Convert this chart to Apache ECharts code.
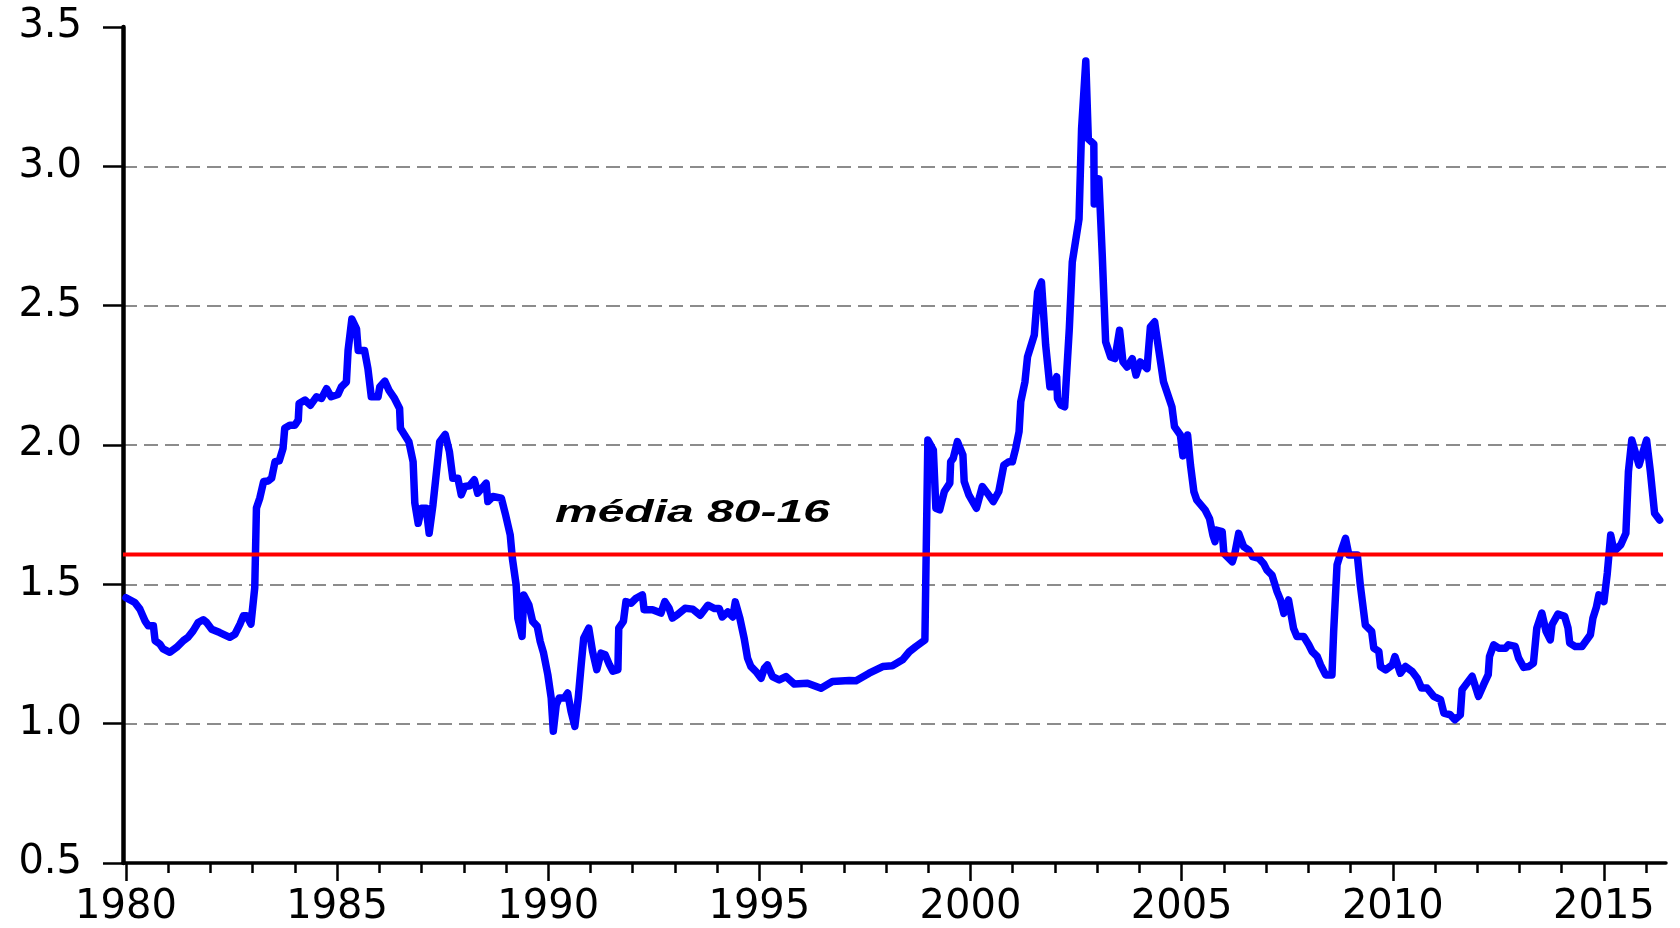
<!DOCTYPE html>
<html><head><meta charset="utf-8">
<script src="https://cdn.jsdelivr.net/npm/echarts@6/dist/echarts.min.js"></script>
<style>html,body{margin:0;padding:0;background:#fff}#chart{width:1680px;height:928px}</style>
</head><body><div id="chart"></div>
<script>
// ---- data ----
const dates = [
1980.00,1980.21,1980.33,1980.45,1980.53,1980.65,1980.69,1980.80,1980.88,1981.04,1981.20,1981.36,1981.47,1981.59,1981.71,1981.83,1981.91,
1982.03,1982.22,1982.46,1982.58,1982.70,1982.78,1982.86,1982.96,1983.05,1983.09,1983.17,1983.26,1983.37,1983.45,1983.53,1983.63,1983.72,1983.76,1983.88,
1984.00,1984.08,1984.10,1984.24,1984.37,1984.51,1984.63,1984.75,1984.86,1985.02,1985.10,1985.22,1985.26,1985.35,1985.46,1985.50,1985.65,1985.73,1985.81,1985.97,
1986.01,1986.13,1986.23,1986.36,1986.48,1986.50,1986.60,1986.70,1986.80,1986.84,1986.92,1987.00,1987.11,1987.18,1987.27,1987.43,1987.56,1987.66,1987.74,1987.86,1987.94,
1988.02,1988.14,1988.25,1988.33,1988.43,1988.53,1988.57,1988.69,1988.89,1988.99,1989.10,1989.15,1989.24,1989.28,1989.38,1989.42,1989.54,1989.63,1989.74,1989.81,1989.89,1989.99,
1990.07,1990.12,1990.19,1990.26,1990.38,1990.46,1990.54,1990.63,1990.71,1990.78,1990.84,1990.96,1991.05,1991.15,1991.25,1991.35,1991.45,1991.53,1991.65,1991.67,1991.78,1991.84,1991.96,
1992.08,1992.23,1992.27,1992.47,1992.67,1992.76,1992.86,1992.94,1993.06,1993.24,1993.42,1993.60,1993.78,1993.94,1994.05,1994.12,1994.25,1994.37,1994.43,1994.54,1994.64,1994.72,1994.80,1994.92,
1995.04,1995.12,1995.19,1995.31,1995.47,1995.63,1995.83,1996.14,1996.46,1996.73,1997.13,1997.29,1997.60,1997.92,1998.15,1998.39,1998.55,1998.70,1998.92,1998.99,
1999.12,1999.18,1999.27,1999.38,1999.51,1999.53,1999.59,1999.69,1999.82,1999.85,1999.96,2000.14,2000.28,2000.40,2000.54,2000.67,2000.79,2000.91,2000.99,
2001.07,2001.15,2001.19,2001.29,2001.35,2001.51,2001.59,2001.68,2001.78,2001.88,2001.96,2002.04,2002.06,2002.14,2002.23,2002.34,2002.41,2002.57,2002.63,2002.73,2002.79,2002.92,2002.93,2002.97,
2003.04,2003.12,2003.20,2003.32,2003.42,2003.53,2003.61,2003.71,2003.83,2003.92,2004.02,2004.18,2004.26,2004.36,2004.57,2004.77,2004.83,2004.97,2005.03,2005.14,2005.21,2005.29,2005.36,2005.56,2005.66,2005.74,2005.79,2005.82,2005.96,
2006.00,2006.20,2006.26,2006.35,2006.47,2006.59,2006.68,2006.83,2006.94,2007.02,2007.14,2007.26,2007.34,2007.42,2007.53,2007.65,2007.73,2007.89,
2008.01,2008.09,2008.21,2008.29,2008.41,2008.56,2008.60,2008.68,2008.80,2008.88,2008.96,2009.16,2009.23,2009.35,2009.50,2009.55,2009.67,2009.71,2009.83,2009.99,
2010.05,2010.18,2010.30,2010.46,2010.58,2010.68,2010.81,2010.97,2011.13,2011.21,2011.36,2011.47,2011.60,2011.64,2011.76,2011.88,2012.03,2012.15,2012.26,2012.29,2012.39,2012.51,2012.67,2012.74,2012.90,2012.98,
2013.10,2013.22,2013.33,2013.41,2013.53,2013.63,2013.73,2013.77,2013.91,2014.07,2014.15,2014.19,2014.32,2014.48,2014.68,2014.74,2014.82,2014.88,2015.00,2015.08,2015.16,2015.24,2015.40,2015.52,2015.58,2015.66,2015.83,
2016.01,2016.10,2016.20,2016.32
];
const values = [
1.452,1.435,1.411,1.369,1.351,1.351,1.298,1.286,1.268,1.256,1.274,1.298,1.310,1.333,1.363,1.373,1.363,
1.339,1.327,1.310,1.321,1.357,1.387,1.387,1.357,1.488,1.774,1.810,1.869,1.871,1.881,1.940,1.943,1.988,2.060,2.071,
2.071,2.089,2.149,2.161,2.143,2.173,2.167,2.202,2.173,2.181,2.208,2.226,2.339,2.452,2.417,2.339,2.339,2.274,2.173,2.173,
2.208,2.229,2.196,2.167,2.131,2.060,2.036,2.012,1.940,1.792,1.719,1.773,1.773,1.683,1.785,2.012,2.038,1.976,1.881,1.881,1.821,
1.851,1.854,1.875,1.827,1.845,1.863,1.797,1.815,1.809,1.749,1.677,1.594,1.498,1.379,1.313,1.462,1.427,1.367,1.349,1.295,1.253,1.176,
1.092,0.973,1.068,1.092,1.092,1.110,1.044,0.990,1.092,1.211,1.307,1.343,1.259,1.194,1.253,1.247,1.211,1.188,1.194,1.343,1.367,1.438,1.432,
1.450,1.462,1.409,1.409,1.397,1.438,1.415,1.379,1.391,1.414,1.411,1.389,1.425,1.413,1.413,1.383,1.401,1.383,1.437,1.377,1.306,1.235,1.205,1.187,
1.163,1.199,1.211,1.169,1.157,1.169,1.142,1.145,1.127,1.151,1.155,1.154,1.181,1.205,1.208,1.229,1.258,1.276,1.300,2.018,
1.982,1.773,1.767,1.833,1.863,1.940,1.952,2.012,1.964,1.869,1.821,1.773,1.851,1.827,1.797,1.833,1.928,1.940,1.940,
1.988,2.048,2.155,2.227,2.316,2.394,2.549,2.585,2.358,2.209,2.209,2.245,2.167,2.143,2.137,2.418,2.656,2.811,3.134,3.378,3.098,3.080,2.865,2.865,
2.955,2.680,2.370,2.316,2.310,2.412,2.298,2.280,2.310,2.251,2.298,2.274,2.424,2.442,2.227,2.137,2.066,2.036,1.961,2.036,1.927,1.832,1.802,1.766,1.736,1.677,1.653,1.695,1.689,
1.611,1.581,1.611,1.683,1.635,1.623,1.599,1.593,1.575,1.551,1.533,1.474,1.444,1.396,1.444,1.342,1.313,1.313,
1.283,1.259,1.241,1.211,1.175,1.175,1.331,1.570,1.629,1.665,1.605,1.605,1.498,1.354,1.331,1.271,1.259,1.205,1.193,1.211,
1.241,1.181,1.205,1.187,1.163,1.128,1.128,1.098,1.086,1.038,1.032,1.014,1.032,1.122,1.146,1.170,1.098,1.140,1.176,1.241,1.283,1.271,1.271,1.283,1.277,1.235,
1.202,1.205,1.217,1.343,1.397,1.331,1.301,1.355,1.393,1.385,1.343,1.289,1.277,1.277,1.319,1.379,1.417,1.462,1.438,1.540,1.677,1.618,1.642,1.683,1.904,2.018,1.928,
2.018,1.904,1.755,1.731
];
const meanValue = 1.607;                 // "média 80-16"
const meanSpan = [1979.93, 2016.40];     // years covered by the mean line
const annotationText = 'média 80-16';
const annotationAt = [1990.16, 1.754];   // [year, value] where the label sits
const yTickValues = [0.5, 1.0, 1.5, 2.0, 2.5, 3.0, 3.5];
const majorYears = [1980, 1985, 1990, 1995, 2000, 2005, 2010, 2015];
const minorYears = [1980,1981,1982,1983,1984,1985,1986,1987,1988,1989,1990,1991,1992,1993,1994,1995,1996,1997,1998,1999,2000,2001,2002,2003,2004,2005,2006,2007,2008,2009,2010,2011,2012,2013,2014,2015,2016];
const xRange = [1979.93, 2016.47];

// ---- chart ----
const chart = echarts.init(document.getElementById('chart'), null, {renderer: 'canvas'});
const labelFont = {fontSize: 40, fontFamily: 'DejaVu Sans', color: '#000'};
chart.setOption({
  animation: false,
  backgroundColor: '#fff',
  grid: {left: 123, right: 14, top: 27, bottom: 62.5},
  xAxis: [
    {type: 'value', min: xRange[0], max: xRange[1], position: 'bottom',
     axisLine: {show: true, onZero: false, lineStyle: {color: '#000', width: 3.5}},
     axisTick: {show: true, customValues: majorYears, length: 18, lineStyle: {color: '#000', width: 2.5}},
     axisLabel: Object.assign({customValues: majorYears, margin: 25, formatter: v => String(Math.round(v))}, labelFont),
     splitLine: {show: false}},
    {type: 'value', min: xRange[0], max: xRange[1], position: 'bottom',
     axisLine: {show: false},
     axisTick: {show: true, customValues: minorYears, length: 10, lineStyle: {color: '#000', width: 2.5}},
     axisLabel: {show: false},
     splitLine: {show: false}}
  ],
  yAxis: {
    type: 'value', min: yTickValues[0], max: yTickValues[yTickValues.length - 1], interval: 0.5,
    axisLine: {show: true, lineStyle: {color: '#000', width: 4.5}},
    axisTick: {show: true, length: 20, lineStyle: {color: '#000', width: 2.5}},
    axisLabel: Object.assign({customValues: yTickValues, margin: 41, formatter: v => v.toFixed(1)}, labelFont),
    splitLine: {show: true, showMinLine: false, showMaxLine: false,
      lineStyle: {color: '#8c8c8c', width: 2, type: [14, 7]}}
  },
  series: [
    {type: 'line', name: 'série', xAxisIndex: 0, data: dates.map((d, i) => [d, values[i]]),
     symbol: 'none', z: 3,
     lineStyle: {color: '#0000ff', width: 7.5, cap: 'round', join: 'round'}, itemStyle: {color: '#0000ff'}},
    {type: 'line', name: annotationText, xAxisIndex: 0, data: meanSpan.map(x => [x, meanValue]),
     symbol: 'none', z: 4,
     lineStyle: {color: '#ff0000', width: 4}, itemStyle: {color: '#ff0000'}}
  ]
});
const p = chart.convertToPixel({gridIndex: 0}, annotationAt);
chart.setOption({
  graphic: [{
    type: 'text', x: p[0], y: p[1], scaleX: 1.5, scaleY: 1, z: 10,
    style: {text: annotationText, font: 'italic bold 32px "Liberation Sans"', fill: '#000',
            textAlign: 'left', textVerticalAlign: 'middle'}
  }]
});
</script>
</body></html>
